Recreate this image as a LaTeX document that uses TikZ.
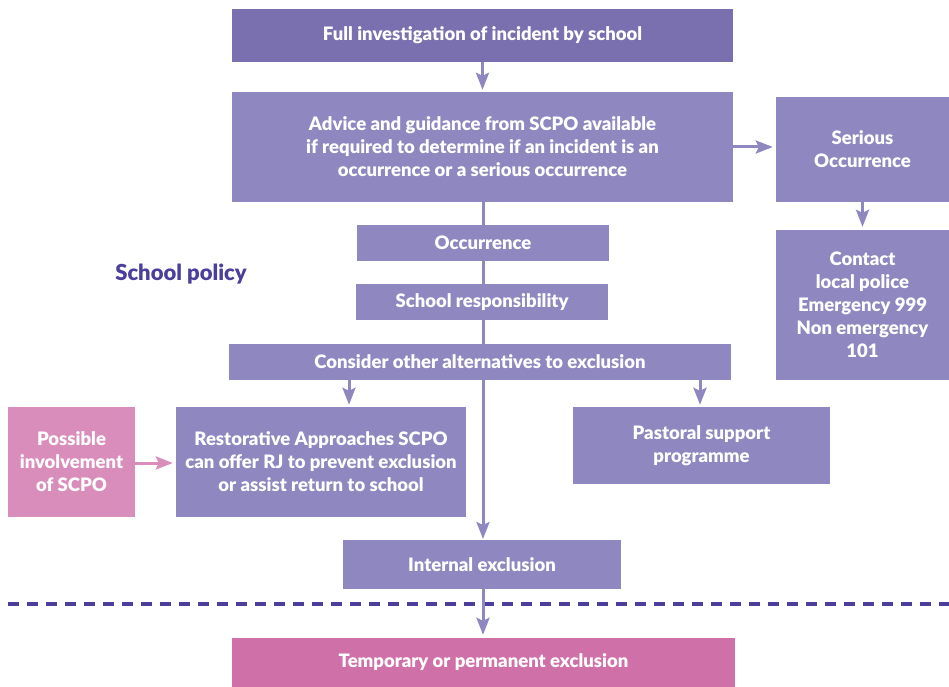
\documentclass[tikz,border=0pt]{standalone}
\usepackage{fontspec}
\setmainfont{Lato}[BoldFont={Lato Black}]
\usetikzlibrary{arrows.meta}
\definecolor{topc}{HTML}{7A70B0}
\definecolor{mainc}{HTML}{8F87BF}
\definecolor{pinka}{HTML}{D98DBB}
\definecolor{pinkb}{HTML}{D070A8}
\definecolor{darkc}{HTML}{4B3F9B}
\tikzset{
  boxa/.style={fill=mainc, draw=none, text=white, font=\fontsize{18.5}{23}\selectfont\bfseries, align=center, inner sep=0pt},
  conn/.style={draw=mainc, line width=3pt, -{Stealth[length=17pt,width=13pt,inset=3pt]}},
}
\begin{document}
\begin{tikzpicture}[x=1pt,y=-1pt]
\useasboundingbox (0,0) rectangle (949,687);
% main vertical line (drawn first, behind boxes)
\coordinate (lineTop) at (483,202);
\coordinate (lineBot) at (483,539);
\draw[conn] (lineTop) -- (lineBot);
\node[boxa, fill=topc, minimum width=501pt, minimum height=53pt] (top) at (482.5,35.5) {Full investigation of incident by school};
\node[boxa, minimum width=501pt, minimum height=110pt] (advice) at (482.5,147) {Advice and guidance from SCPO available\\if required to determine if an incident is an\\occurrence or a serious occurrence};
\node[boxa, minimum width=173pt, minimum height=105pt] (serious) at (862.5,149.5) {Serious\\Occurrence};
\node[boxa, minimum width=173pt, minimum height=150pt] (contact) at (862.5,305) {Contact\\local police\\Emergency 999\\Non emergency\\101};
\node[boxa, minimum width=252pt, minimum height=36pt] (occ) at (483,243) {Occurrence};
\node[boxa, minimum width=252pt, minimum height=36pt] (resp) at (482,302) {School responsibility};
\node[boxa, minimum width=502pt, minimum height=36pt] (consider) at (480,362) {Consider other alternatives to exclusion};
\node[boxa, minimum width=290pt, minimum height=110pt] (restor) at (321,462) {Restorative Approaches SCPO\\can offer RJ to prevent exclusion\\or assist return to school};
\node[boxa, fill=pinka, minimum width=127pt, minimum height=110pt] (possible) at (71.5,462) {Possible\\involvement\\of SCPO};
\node[boxa, minimum width=257pt, minimum height=77pt] (pastoral) at (701.5,445.5) {Pastoral support\\programme};
\node[boxa, minimum width=278pt, minimum height=49pt] (internal) at (482,564.5) {Internal exclusion};
\node[boxa, fill=pinkb, minimum width=503pt, minimum height=49pt] (temp) at (483.5,662.5) {Temporary or permanent exclusion};
\node[text=darkc, font=\fontsize{22}{23}\selectfont\bfseries, inner sep=0pt] (policy) at (181,274) {School policy};
% dashed separator
\coordinate (dashL) at (8,604);
\coordinate (dashR) at (949,604);
\draw[darkc, line width=3.5pt, dash pattern=on 11pt off 8pt] (dashL) -- (dashR);
% connectors
\draw[conn, shorten >=2pt] (top.south) -- (advice.north);
\draw[conn, shorten >=3pt] (advice.east |- 0,147) -- (serious.west |- 0,147);
\draw[conn, shorten >=3pt] (serious.south) -- (contact.north);
\draw[conn, shorten >=2pt] (consider.south -| 349,0) -- (restor.north -| 349,0);
\draw[conn, shorten >=2pt] (consider.south -| 700,0) -- (pastoral.north -| 700,0);
\draw[conn, draw=pinka, shorten >=3pt] (possible.east |- 0,463) -- (restor.west |- 0,463);
\draw[conn, shorten >=3pt] (internal.south -| 483,0) -- (temp.north -| 483,0);
\end{tikzpicture}
\end{document}
